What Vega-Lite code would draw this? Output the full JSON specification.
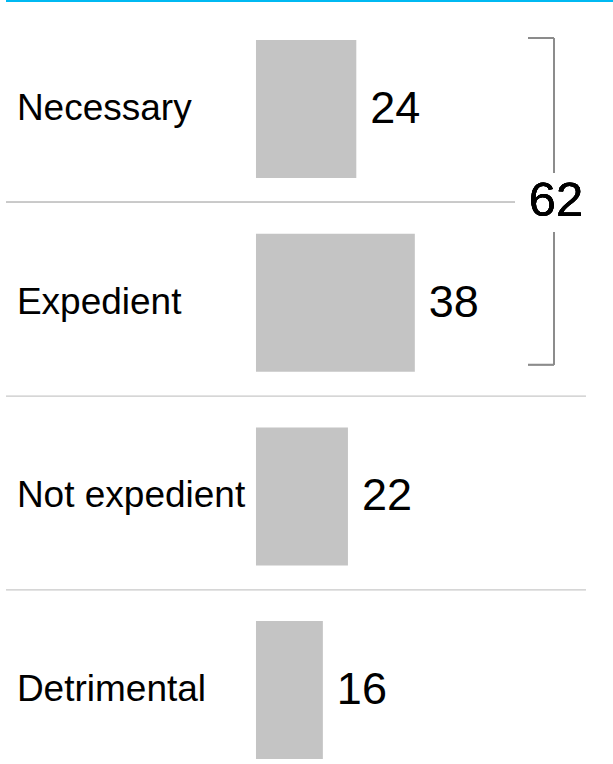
{
  "$schema": "https://vega.github.io/schema/vega-lite/v6.json",
  "width": 613,
  "height": 764,
  "padding": 0,
  "autosize": {"type": "none"},
  "background": "#ffffff",
  "config": {"view": {"stroke": null}, "text": {"font": "Liberation Sans", "color": "#000000"}},
  "data": {"values": [
    {"cat": "Necessary", "value": 24},
    {"cat": "Expedient", "value": 38},
    {"cat": "Not expedient", "value": 22},
    {"cat": "Detrimental", "value": 16}
  ]},
  "encoding": {
    "y": {"field": "cat", "type": "nominal", "sort": null, "axis": null,
      "scale": {"domain": ["Necessary", "Expedient", "Not expedient", "Detrimental"], "range": [12.2, 786.9], "paddingInner": 0.2874, "paddingOuter": 0.1437}}
  },
  "layer": [
    {
      "mark": {"type": "bar", "color": "#c4c4c4"},
      "encoding": {
        "x": {"field": "value", "type": "quantitative", "axis": null, "scale": {"domain": [-61.24, 85.41], "nice": false, "zero": false}}
      }
    },
    {
      "mark": {"type": "text", "align": "left", "baseline": "middle", "fontSize": 45, "dx": 14},
      "encoding": {
        "x": {"field": "value", "type": "quantitative"},
        "text": {"field": "value"}
      }
    },
    {
      "mark": {"type": "text", "align": "left", "baseline": "middle", "fontSize": 37},
      "encoding": {
        "x": {"datum": -57.2, "type": "quantitative"},
        "text": {"field": "cat"}
      }
    },
    {
      "mark": {"type": "rule", "color": "#c8c8c8", "strokeWidth": 1.2},
      "encoding": {
        "x": {"datum": -59.8, "type": "quantitative"},
        "x2": {"datum": 61.96},
        "y": {"datum": "Necessary", "bandPosition": 1.174}
      }
    },
    {
      "transform": [{"filter": "datum.cat == 'Expedient' || datum.cat == 'Not expedient'"}],
      "mark": {"type": "rule", "color": "#c8c8c8", "strokeWidth": 1.2},
      "encoding": {
        "x": {"datum": -59.8, "type": "quantitative"},
        "x2": {"datum": 78.95},
        "y": {"field": "cat", "type": "nominal", "bandPosition": 1.177}
      }
    },
    {
      "mark": {"type": "rule", "color": "#00b9f2", "strokeWidth": 2.2},
      "encoding": {
        "x": {"datum": -59.8, "type": "quantitative"},
        "x2": {"datum": 85.41},
        "y": {"datum": "Necessary", "bandPosition": -0.283}
      }
    },
    {
      "mark": {"type": "rule", "color": "#8c8c8c", "strokeWidth": 1.5},
      "encoding": {
        "x": {"datum": 71.29, "type": "quantitative"},
        "y": {"datum": "Necessary", "bandPosition": -0.0145},
        "y2": {"datum": "Necessary", "bandPosition": 0.964}
      }
    },
    {
      "mark": {"type": "rule", "color": "#8c8c8c", "strokeWidth": 1.5},
      "encoding": {
        "x": {"datum": 71.29, "type": "quantitative"},
        "y": {"datum": "Expedient", "bandPosition": -0.012},
        "y2": {"datum": "Expedient", "bandPosition": 0.949}
      }
    },
    {
      "mark": {"type": "rule", "color": "#8c8c8c", "strokeWidth": 1.5},
      "encoding": {
        "x": {"datum": 65.07, "type": "quantitative"},
        "x2": {"datum": 71.29},
        "y": {"datum": "Necessary", "bandPosition": -0.0145}
      }
    },
    {
      "mark": {"type": "rule", "color": "#8c8c8c", "strokeWidth": 1.5},
      "encoding": {
        "x": {"datum": 65.07, "type": "quantitative"},
        "x2": {"datum": 71.29},
        "y": {"datum": "Expedient", "bandPosition": 0.949}
      }
    },
    {
      "mark": {"type": "rule", "color": "#ffffff", "strokeWidth": 58},
      "encoding": {
        "x": {"datum": 70.0, "type": "quantitative"},
        "x2": {"datum": 72.6},
        "y": {"datum": "Necessary", "bandPosition": 1.178}
      }
    },
    {
      "mark": {"type": "text", "align": "center", "baseline": "middle", "fontSize": 49},
      "encoding": {
        "x": {"datum": 71.77, "type": "quantitative"},
        "y": {"datum": "Necessary", "bandPosition": 1.167},
        "text": {"value": "62"}
      }
    }
  ]
}
